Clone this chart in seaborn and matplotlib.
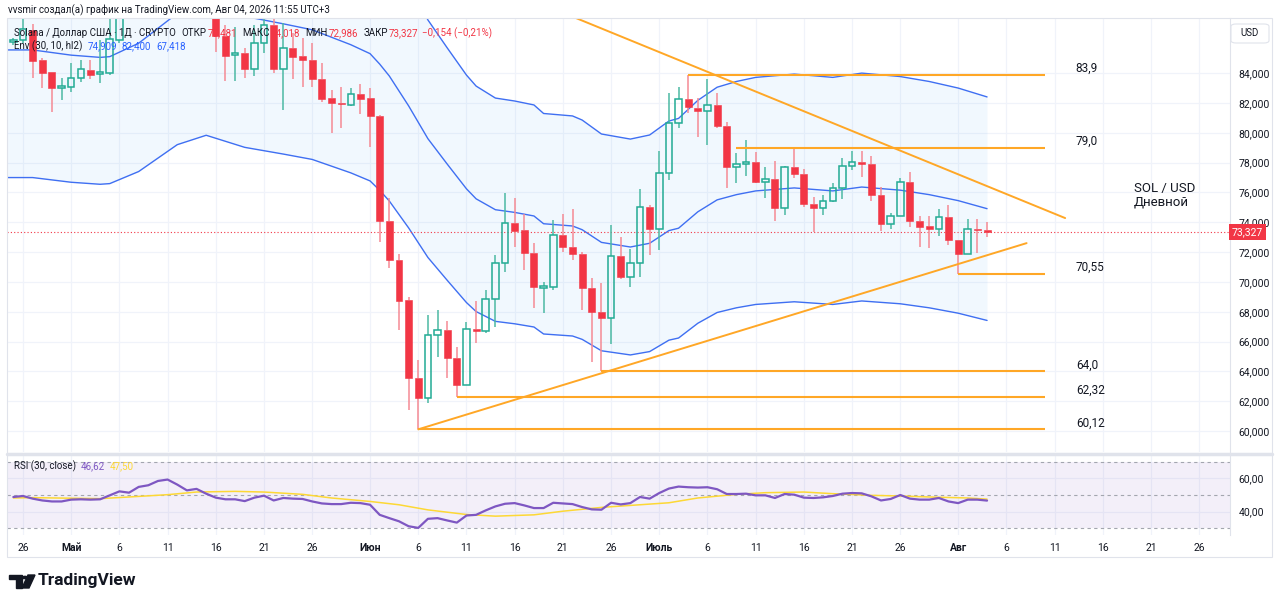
import numpy as np
import pandas as pd
import seaborn as sns
import matplotlib.pyplot as plt
import matplotlib.dates as mdates
import matplotlib.transforms as mtransforms
from matplotlib.patches import Rectangle, FancyBboxPatch, Polygon, Circle

# SOL / USD, daily candles 25 Apr - 4 Aug 2026
first_day = '2026-04-25'

opens = [86.05, 86.2, 86.9, 84.9, 84.05, 83.0, 83.05, 83.7, 84.2, 83.95,
         84.0, 86.2, 88.0, 87.85, 89.6, 90.3, 91.6, 92.1, 90.6, 88.9,
         89.3, 88.2, 86.5, 85.2, 85.35, 84.25, 86.0, 87.2, 84.25, 85.65,
         85.15, 84.9, 83.6, 82.3, 82.0, 81.85, 82.6, 82.3, 81.1, 74.1,
         71.5, 68.8, 63.55, 62.2, 66.45, 66.75, 64.9, 63.1, 66.85, 66.7,
         68.85, 71.25, 73.95, 73.45, 71.95, 69.6, 69.65, 73.15, 72.35, 71.85,
         69.6, 68.0, 67.6, 71.75, 70.35, 71.25, 75.0, 73.55, 77.3, 80.65,
         82.25, 81.65, 81.45, 81.85, 80.45, 77.7, 77.9, 78.05, 76.7, 76.9,
         74.95, 77.7, 77.25, 75.2, 74.95, 75.4, 76.3, 77.75, 78.05, 77.9,
         75.8, 73.9, 74.4, 76.7, 74.1, 73.75, 73.55, 74.35, 72.8, 71.85,
         73.55, 73.481]
highs = [86.35, 87.8, 87.3, 85.0, 84.1, 83.7, 84.7, 84.9, 84.9, 86.2,
         87.9, 88.6, 88.9, 90.0, 90.8, 92.0, 92.6, 92.3, 90.9, 89.8,
         89.5, 88.5, 87.2, 87.1, 85.7, 87.2, 87.9, 87.6, 87.35, 86.7,
         86.35, 86.0, 84.7, 82.85, 83.05, 83.0, 83.25, 83.0, 81.2, 75.6,
         71.9, 69.0, 64.8, 67.8, 68.1, 67.4, 65.65, 67.3, 68.7, 69.45,
         71.8, 75.95, 75.6, 74.55, 72.6, 70.0, 74.15, 74.55, 74.9, 72.0,
         70.25, 69.9, 73.8, 73.0, 72.2, 76.2, 75.15, 78.75, 82.65, 83.05,
         83.9, 82.3, 83.6, 82.65, 80.7, 78.65, 79.5, 78.7, 77.7, 78.1,
         77.75, 78.95, 77.55, 75.7, 75.8, 76.65, 78.3, 78.8, 78.8, 78.45,
         76.35, 74.6, 76.95, 77.35, 74.4, 74.4, 74.9, 75.15, 72.8, 74.2,
         74.2, 74.018]
lows = [85.9, 86.0, 83.7, 83.0, 81.4, 82.2, 82.7, 83.4, 83.6, 83.3,
        83.9, 86.0, 87.75, 87.8, 89.0, 90.0, 91.0, 90.2, 88.6, 88.3,
        87.9, 85.4, 83.5, 83.5, 83.65, 83.8, 85.35, 84.0, 81.5, 83.6,
        83.05, 83.05, 82.05, 80.0, 80.3, 81.8, 81.25, 79.05, 72.7, 70.95,
        66.8, 61.4, 60.12, 61.9, 64.95, 63.55, 62.32, 63.1, 65.9, 66.6,
        67.0, 70.65, 72.35, 70.8, 68.25, 67.9, 69.45, 72.0, 71.45, 68.1,
        64.6, 64.0, 65.85, 70.2, 69.65, 70.35, 71.8, 72.15, 76.8, 80.3,
        81.3, 79.7, 79.2, 80.3, 76.3, 76.6, 77.1, 76.6, 75.6, 74.1,
        74.5, 76.95, 75.0, 73.35, 74.5, 75.35, 75.55, 77.5, 77.05, 75.4,
        73.4, 73.55, 74.4, 73.7, 72.35, 72.3, 73.05, 72.5, 70.55, 71.85,
        71.95, 72.986]
closes = [86.2, 86.95, 84.8, 84.0, 83.0, 83.1, 83.7, 84.25, 83.9, 84.05,
          86.3, 87.9, 87.8, 89.6, 90.3, 91.6, 92.1, 90.6, 88.9, 89.3,
          88.2, 86.5, 85.15, 85.35, 84.25, 86.0, 87.2, 84.25, 85.65, 85.05,
          84.9, 83.6, 82.25, 82.0, 81.9, 82.6, 82.25, 81.1, 74.1, 71.5,
          68.75, 63.55, 62.2, 66.45, 66.75, 64.9, 63.1, 66.85, 66.7, 68.85,
          71.25, 73.95, 73.4, 71.95, 69.65, 69.7, 73.15, 72.35, 71.85, 69.6,
          68.0, 67.6, 71.75, 70.35, 71.25, 75.0, 73.55, 77.3, 80.65, 82.25,
          81.7, 81.45, 81.85, 80.45, 77.7, 77.9, 78.05, 76.7, 76.9, 74.95,
          77.7, 77.25, 75.2, 74.95, 75.4, 76.3, 77.75, 78.05, 77.9, 75.8,
          73.9, 74.4, 76.7, 74.1, 73.7, 73.55, 74.35, 72.8, 71.85, 73.55,
          73.481, 73.327]
rsi = [48.8, 49.4, 47.8, 46.7, 46.1, 46.1, 47.2, 47.4, 47.2, 47.4,
       49.8, 52.2, 51.4, 54.9, 55.9, 58.5, 59.35, 56.3, 52.8, 53.7,
       50.8, 48.4, 47.4, 47.4, 46.3, 48.4, 49.6, 46.7, 48.2, 47.8,
       47.6, 46.1, 44.9, 44.5, 44.5, 45.3, 45.1, 44.1, 38.0, 36.0,
       34.1, 31.1, 30.1, 35.6, 36.0, 34.6, 33.3, 37.6, 38.0, 40.7,
       43.1, 44.7, 45.1, 43.7, 42.1, 42.1, 45.3, 44.9, 44.5, 42.7,
       41.3, 41.1, 45.3, 44.3, 45.1, 48.8, 47.8, 51.2, 53.9, 55.1,
       54.7, 54.5, 54.7, 53.5, 50.6, 50.6, 50.8, 49.8, 49.8, 48.2,
       50.6, 50.2, 48.4, 48.2, 48.6, 49.4, 50.8, 51.2, 51.0, 49.2,
       46.7, 47.6, 50.0, 47.8, 47.2, 47.2, 48.2, 46.1, 45.1, 47.2,
       47.2, 46.62]

# days counted from 26 Apr
rsi_ma_days = [-1, 1, 8, 11, 15, 18, 22, 25, 29, 32, 36, 39, 42, 46, 49, 53, 56, 60, 63, 67,
               70, 74, 77, 81, 84, 88, 91, 94, 98, 100]
rsi_ma = [48.2, 48.4, 47.8, 48.8, 50.2, 51.8, 52.2, 51.8, 50.4, 48.2, 46.1, 44.1, 41.0, 38.2, 37.2,
          38.0, 40.2, 42.5, 43.7, 45.3, 48.2, 50.4, 51.4, 51.8, 50.8, 49.8, 49.4, 48.8, 48.2, 47.5]

# Envelope (30, 10, hl2) middle line
env_days = [-2, 1, 5, 8, 9, 12, 16, 19, 23, 27, 30, 34, 36, 37, 38, 39, 40, 42, 44, 46,
            47, 49, 51, 53, 54, 57, 58, 60, 63, 65, 67, 68, 70, 72, 74, 76, 80, 84, 87, 91,
            94, 97, 100]
env_mid = [85.55, 85.55, 85.2, 85.05, 85.1, 86.0, 88.0, 88.7, 87.8, 87.3, 86.9, 85.9, 85.3, 84.6,
           83.8, 82.8, 81.8, 79.6, 77.9, 76.24, 75.57, 74.84, 74.66, 74.42, 73.9, 73.75, 73.5,
           72.65, 72.34, 72.59, 73.44, 73.6, 74.7, 75.5, 75.85, 76.1, 76.3, 76.1, 76.36, 76.15,
           75.85, 75.45, 74.909]

# horizontal levels drawn by the author
levels = [83.9, 79.0, 70.55, 64.0, 62.32, 60.12]
level_labels = ['83,9', '79,0', '70,55', '64,0', '62,32', '60,12']
level_start = [69, 74, 97, 60, 45, 41]
level_end = 106

# triangle trend lines (day, price)
upper_trend = [(55, 88.31), (108.1, 74.28)]
lower_trend = [(41, 60.12), (104.1, 72.6)]

tick_days = [0, 5, 10, 15, 20, 25, 30, 36, 41, 46, 51, 56, 61, 66, 71, 76, 81, 86, 91,
             97, 102, 107, 112, 117, 122]
tick_labels = ['26', 'Май', '6', '11', '16', '21', '26', 'Июн', '6', '11', '16', '21', '26',
               'Июль', '6', '11', '16', '21', '26', 'Авг', '6', '11', '16', '21', '26']

GREEN = '#22ab94'
RED = '#f23645'
TXT = '#131722'
GRID = '#f0f3fa'
ORANGE = '#ffa726'
BLUE = '#3f6ff2'

sns.set_theme(style='white')
plt.rcParams['font.family'] = ['Roboto', 'DejaVu Sans']

base = mdates.date2num(pd.Timestamp('2026-04-26'))
df = pd.DataFrame({'date': pd.date_range(first_day, periods=len(opens), freq='D'),
                   'open': opens, 'high': highs, 'low': lows, 'close': closes, 'rsi': rsi})
df['x'] = mdates.date2num(df['date'])

env = pd.DataFrame({'x': base + np.array(env_days), 'mid': env_mid})
env['upper'] = env['mid'] * 1.1
env['lower'] = env['mid'] * 0.9

W, H = 1280, 605
fig = plt.figure(figsize=(W / 100, H / 100), dpi=100)
fig.patch.set_facecolor('white')


def fx(x):
    return x / W


def fy(y):
    return 1 - y / H


ax = fig.add_axes([fx(7), fy(452), fx(1230) - fx(7), fy(18) - fy(452)])
ax2 = fig.add_axes([fx(7), fy(535), fx(1230) - fx(7), fy(456) - fy(535)])

xlim = (base - 1.66, base + 125.2)

# ---- main price panel
ax.fill_between(env['x'], env['lower'], env['upper'], color='#2196f3', alpha=0.06, lw=0, zorder=1)
for col in ['upper', 'mid', 'lower']:
    sns.lineplot(data=env, x='x', y=col, ax=ax, color=BLUE, lw=1.0, zorder=2)

up = df['close'] >= df['open']
body_lo = np.minimum(df['open'], df['close'])
body_hi = np.maximum(df['open'], df['close'])
body_h = np.maximum(body_hi - body_lo, 0.06)
wick_col = np.where(up, '#4cb9a3', '#f58a94')
ax.vlines(df['x'], body_hi, df['high'], colors=wick_col, lw=1.1, zorder=3)
ax.vlines(df['x'], df['low'], body_lo, colors=wick_col, lw=1.1, zorder=3)
ax.bar(df['x'][up], body_h[up], bottom=body_lo[up], width=0.68, facecolor='none',
       edgecolor=GREEN, linewidth=1.1, zorder=4)
ax.bar(df['x'][~up], body_h[~up], bottom=body_lo[~up], width=0.72, color=RED,
       edgecolor=RED, linewidth=0.4, zorder=4)

for lv, lb, st in zip(levels, level_labels, level_start):
    ax.hlines(lv, base + st, base + level_end, color=ORANGE, lw=1.5, zorder=5)
    ax.annotate(lb, (base + 109.2, lv), xytext=(0, 4.5), textcoords='offset points',
                va='center', ha='left', fontsize=8.5, color=TXT)

for tl in (upper_trend, lower_trend):
    ax.plot([base + tl[0][0], base + tl[1][0]], [tl[0][1], tl[1][1]], color=ORANGE, lw=1.4, zorder=5)

last = closes[-1]
ax.axhline(last, color=RED, ls=(0, (1, 2)), lw=0.8, zorder=2)
trans = mtransforms.blended_transform_factory(ax.transAxes, ax.transData)
ax.text(1.0015, last, f'{last:.3f}'.replace('.', ','), transform=trans, va='center', ha='left',
        color='white', fontsize=7.5, zorder=10,
        bbox=dict(boxstyle='square,pad=0.3', fc=RED, ec='none'))

prices = np.arange(60, 85, 2)
ax.set_yticks(prices)
ax.set_yticklabels([f'{p:.3f}'.replace('.', ',') for p in prices])
for lbl, p in zip(ax.get_yticklabels(), prices):
    if p % 10 == 0:
        lbl.set_fontweight('bold')
ax.yaxis.tick_right()
ax.set_ylim(58.60, 87.69)
ax.set_xlim(xlim)
ax.set_xticks(base + np.array(tick_days))
ax.tick_params(axis='x', labelbottom=False, length=0)
ax.tick_params(axis='y', length=0, pad=6, labelsize=7.5, labelcolor=TXT)
ax.grid(True, color=GRID, lw=0.9)
ax.set_axisbelow(True)
ax.set_xlabel('')
ax.set_ylabel('')

# ---- RSI panel
ax2.axhspan(30, 70, color='#7e57c2', alpha=0.09, lw=0)
for v in (30, 50, 70):
    ax2.axhline(v, color='#a3a6af', ls=(0, (3, 3)), lw=0.8)
sns.lineplot(x=base + np.array(rsi_ma_days), y=rsi_ma, ax=ax2, color='#fdd835', lw=1.1)
sns.lineplot(data=df, x='x', y='rsi', ax=ax2, color='#7e57c2', lw=1.6)
ax2.set_ylim(25.8, 73.6)
ax2.set_yticks([40, 60])
ax2.set_yticklabels(['40,00', '60,00'])
ax2.yaxis.tick_right()
ax2.set_xlim(xlim)
ax2.set_xticks(base + np.array(tick_days))
ax2.set_xticklabels(tick_labels)
for lbl, t in zip(ax2.get_xticklabels(), tick_labels):
    if not t.isdigit():
        lbl.set_fontweight('bold')
ax2.tick_params(axis='x', length=0, pad=6, labelsize=7.5, labelcolor=TXT)
ax2.tick_params(axis='y', length=0, pad=6, labelsize=7.5, labelcolor=TXT)
ax2.grid(True, color=GRID, lw=0.9)
ax2.set_axisbelow(True)
ax2.set_xlabel('')
ax2.set_ylabel('')

for a in (ax, ax2):
    for s in ('top', 'left', 'bottom'):
        a.spines[s].set_visible(False)
    a.spines['right'].set_color('#e0e3eb')
    a.spines['right'].set_linewidth(0.8)

# ---- frame and separators
fig.add_artist(plt.Line2D([fx(7), fx(1272)], [fy(453.5), fy(453.5)], color='#e0e3eb', lw=2.5))
fig.add_artist(Rectangle((fx(7), fy(557)), fx(1272) - fx(7), fy(18) - fy(557), fill=False,
                         ec='#e0e3eb', lw=0.8, transform=fig.transFigure))

# ---- texts
fig.text(fx(8), fy(10), 'vvsmir создал(а) график на TradingView.com, Авг 04, 2026 11:55 UTC+3',
         fontsize=7, color=TXT, va='center')

renderer = fig.canvas.get_renderer()


def text_row(x, y, parts, size=7):
    for txt, col, gap in parts:
        t = fig.text(fx(x), fy(y), txt, color=col, fontsize=size, va='center', zorder=20)
        x += t.get_window_extent(renderer).width + gap


text_row(14, 33, [('Solana / Доллар США · 1Д · CRYPTO', TXT, 6), ('ОТКР', TXT, 1), ('73,481', RED, 5),
                  ('МАКС', TXT, 1), ('74,018', RED, 5), ('МИН', TXT, 1), ('72,986', RED, 5),
                  ('ЗАКР', TXT, 1), ('73,327', RED, 4), ('−0,154 (−0,21%)', RED, 0)])
text_row(14, 46, [('Env (30, 10, hl2)', TXT, 5), ('74,909', '#2962ff', 5), ('82,400', '#2962ff', 5),
                  ('67,418', '#2962ff', 0)])
text_row(14, 466, [('RSI (30, close)', TXT, 5), ('46,62', '#7e57c2', 4), ('47,50', '#fdd835', 0)])

fig.text(fx(1134), fy(195), 'SOL / USD\nДневной', fontsize=9.5, color=TXT, va='center',
         linespacing=1.0)

fig.add_artist(FancyBboxPatch((fx(1231), fy(43)), fx(38), fy(0) - fy(19),
                              boxstyle='round,pad=0,rounding_size=0.004', fc='white',
                              ec='#e0e3eb', lw=0.8, transform=fig.transFigure))
fig.text(fx(1250), fy(33.5), 'USD', fontsize=7, color=TXT, ha='center', va='center')

# TradingView logo
fig.add_artist(Rectangle((fx(9), fy(579)), fx(13), fy(0) - fy(4), color=TXT, transform=fig.transFigure))
fig.add_artist(Rectangle((fx(15.5), fy(588)), fx(6.5), fy(0) - fy(12), color=TXT,
                         transform=fig.transFigure))
fig.add_artist(Circle((fx(25), fy(577.5)), 0.0019, color=TXT, transform=fig.transFigure))
fig.add_artist(Polygon([(fx(28), fy(575)), (fx(35), fy(575)), (fx(29), fy(588)), (fx(22), fy(588))],
                       closed=True, color=TXT, transform=fig.transFigure))
fig.text(fx(38), fy(581), 'TradingView', fontsize=12.5, fontweight='bold', color=TXT, va='center')

fig.savefig('out.png', dpi=100, facecolor='white')
